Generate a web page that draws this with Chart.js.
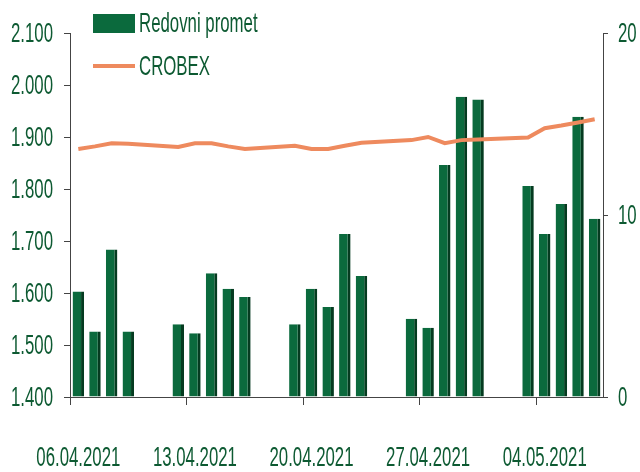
<!DOCTYPE html>
<html>
<head>
<meta charset="utf-8">
<script src="https://cdn.jsdelivr.net/npm/chart.js@4"></script>
<style>
  body { margin: 0; background: #fff; }
  #wrap { position: relative; width: 640px; height: 472px; }
  .sw { position: absolute; left: 93px; width: 42px; }
  .tx { position: absolute; left: 139px; font: 28px 'Liberation Sans', sans-serif; color: #0d5a32; white-space: nowrap;
        transform: scaleX(0.6); transform-origin: 0 0; line-height: 28px; }
</style>
</head>
<body>
<div id="wrap">
  <canvas id="promet-crobex" width="640" height="472"></canvas>
  <span class="sw" style="top:14px;height:19px;background:#0b6a3d"></span>
  <span class="tx" style="top:9px">Redovni promet</span>
  <span class="sw" style="top:64px;height:4px;background:#ee8a5e"></span>
  <span class="tx" style="top:52px">CROBEX</span>
</div>
<script>
/* dani (vikendi bez prometa = null) */
const labelarray = [
    '06.04.2021', '07.04.2021', '08.04.2021', '09.04.2021', '10.04.2021', '11.04.2021', '12.04.2021',
    '13.04.2021', '14.04.2021', '15.04.2021', '16.04.2021', '17.04.2021', '18.04.2021', '19.04.2021',
    '20.04.2021', '21.04.2021', '22.04.2021', '23.04.2021', '24.04.2021', '25.04.2021', '26.04.2021',
    '27.04.2021', '28.04.2021', '29.04.2021', '30.04.2021', '01.05.2021', '02.05.2021', '03.05.2021',
    '04.05.2021', '05.05.2021', '06.05.2021', '07.05.2021'
];

// redovni promet, mil. kn (desna os)
const datapointarray_promet = [
    5.8, 3.6, 8.1, 3.6, null, null, 4.0,
    3.5, 6.8, 5.95, 5.5, null, null, 4.0,
    5.95, 4.95, 8.95, 6.65, null, null, 4.3,
    3.8, 12.75, 16.5, 16.35, null, null, 11.6,
    8.95, 10.6, 15.4, 9.8
];

// CROBEX (lijeva os)
const datapointarray_crobex = [
    1877, 1882, 1888, 1887, null, null, 1881,
    1888, 1888, 1882, 1877, null, null, 1883,
    1877, 1877, 1883, 1889, null, null, 1894,
    1900, 1888, 1894, 1895, null, null, 1899,
    1917, 1922, 1928, 1934
];

const txtColor = '#0d5a32';
const axisColor = '#444';

// tick labels drawn tall & narrow like the original (Arial Narrow look)
const narrowTicks = {
    id: 'narrowTicks',
    afterDraw(chart) {
        const ctx = chart.ctx;
        ctx.save();
        ctx.font = "28px 'Liberation Sans', sans-serif";
        ctx.fillStyle = txtColor;
        ctx.textBaseline = 'middle';
        ['x', 'y', 'y1'].forEach(function(id) {
            const s = chart.scales[id];
            s.ticks.forEach(function(t, i) {
                if (!t.label) return;
                let px, py, align;
                if (id === 'x') {
                    px = s.getPixelForTick(i); py = s.top + 60; align = 'center';
                } else if (id === 'y') {
                    px = s.right - 17; py = s.getPixelForTick(i); align = 'right';
                } else {
                    px = s.left + 15; py = s.getPixelForTick(i); align = 'left';
                }
                ctx.save();
                ctx.translate(px, py);
                ctx.scale(0.6, 1);
                ctx.textAlign = align;
                ctx.fillText(t.label, 0, 1);
                ctx.restore();
            });
        });
        ctx.restore();
    }
};

const ctx_promet = document.getElementById('promet-crobex').getContext('2d');
const mixedChart = new Chart(ctx_promet, {
    plugins: [narrowTicks],
    data: {
        labels: labelarray,
        datasets: [{
            type: 'line',
            label: 'CROBEX',
            data: datapointarray_crobex,
            yAxisID: 'y',
            borderColor: '#ee8a5e',
            borderWidth: 4,
            pointRadius: 0,
            spanGaps: true,
            tension: 0,
            order: 0
        }, {
            type: 'bar',
            label: 'Redovni promet',
            data: datapointarray_promet,
            yAxisID: 'y1',
            backgroundColor: '#0b6a3d',
            borderColor: '#053b20',
            borderWidth: {left: 0, top: 0, bottom: 0, right: 3},
            borderSkipped: false,
            barPercentage: 0.69,
            categoryPercentage: 1,
            order: 1
        }]
    },
    options: {
        responsive: false,
        animation: false,
        layout: { padding: { top: 33, left: 0, right: 0, bottom: 0 } },
        plugins: { legend: { display: false }, tooltip: { enabled: false } },
        scales: {
            x: {
                offset: true,
                grid: {
                    offset: true,
                    drawOnChartArea: false,
                    tickLength: 8,
                    color: (c) => (c.index % 7 === 0 ? axisColor : 'rgba(0,0,0,0)')
                },
                border: { color: axisColor },
                ticks: {
                    autoSkip: false,
                    maxRotation: 0,
                    color: 'rgba(0,0,0,0)',
                    font: { size: 1 },
                    callback: (v, i) => (i % 7 === 0 ? labelarray[i] : '')
                },
                afterFit: (s) => { s.height = 75; }
            },
            y: {
                position: 'left',
                min: 1400,
                max: 2100,
                grid: { drawOnChartArea: false, tickLength: 6, color: axisColor },
                border: { color: axisColor },
                ticks: {
                    stepSize: 100,
                    color: 'rgba(0,0,0,0)',
                    font: { size: 1 },
                    callback: (v) => String(v).replace(/\B(?=(\d{3})+(?!\d))/g, '.')
                },
                afterFit: (s) => { s.width = 70; }
            },
            y1: {
                position: 'right',
                min: 0,
                max: 20,
                grid: { drawOnChartArea: false, tickLength: 5, color: axisColor },
                border: { color: axisColor },
                ticks: {
                    stepSize: 10,
                    color: 'rgba(0,0,0,0)',
                    font: { size: 1 }
                },
                afterFit: (s) => { s.width = 37; }
            }
        }
    }
});
</script>
</body>
</html>
